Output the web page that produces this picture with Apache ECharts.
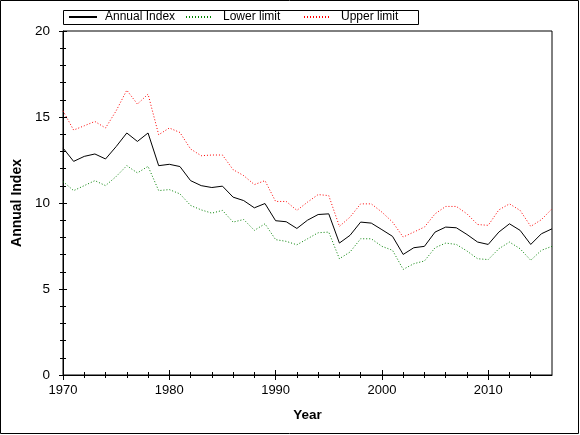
<!DOCTYPE html>
<html>
<head>
<meta charset="utf-8">
<script src="https://cdn.jsdelivr.net/npm/echarts@6/dist/echarts.min.js"></script>
<style>html,body{margin:0;padding:0;background:#fff}#c{width:580px;height:435px}</style>
</head>
<body>
<div id="c"></div>
<script>
var years = [1970,1971,1972,1973,1974,1975,1976,1977,1978,1979,1980,1981,1982,1983,1984,1985,1986,1987,1988,1989,1990,1991,1992,1993,1994,1995,1996,1997,1998,1999,2000,2001,2002,2003,2004,2005,2006,2007,2008,2009,2010,2011,2012,2013,2014,2015,2016];
var annualIndex = [13.2,12.42,12.71,12.85,12.56,13.28,14.07,13.58,14.07,12.17,12.25,12.12,11.3,11.01,10.9,10.98,10.34,10.14,9.72,9.97,8.97,8.91,8.52,9.0,9.33,9.37,7.67,8.12,8.89,8.83,8.45,8.06,7.01,7.4,7.48,8.31,8.6,8.56,8.17,7.73,7.59,8.31,8.79,8.41,7.59,8.21,8.5];
var lowerLimit = [11.25,10.72,11.01,11.3,11.01,11.54,12.17,11.75,12.13,10.72,10.78,10.53,9.86,9.6,9.41,9.57,8.89,9.04,8.41,8.79,7.87,7.77,7.57,7.92,8.27,8.31,6.76,7.15,7.92,7.92,7.48,7.25,6.14,6.47,6.63,7.4,7.67,7.59,7.21,6.76,6.71,7.34,7.73,7.34,6.67,7.25,7.48];
var upperLimit = [15.36,14.24,14.49,14.74,14.36,15.36,16.56,15.75,16.33,13.97,14.36,14.1,13.14,12.75,12.79,12.79,11.94,11.59,11.07,11.3,10.09,10.09,9.57,10.05,10.49,10.43,8.64,9.18,9.95,9.95,9.47,8.89,8.02,8.31,8.6,9.37,9.8,9.8,9.37,8.75,8.7,9.6,9.95,9.57,8.64,9.03,9.66];
var xLabelTicks = [1970,1980,1990,2000,2010];
var xMinorTicks = [1972,1974,1976,1978,1982,1984,1986,1988,1992,1994,1996,1998,2002,2004,2006,2008,2012,2014];
var yLabelTicks = [0,5,10,15,20];
var yMinorTicks = [1,2,3,4,6,7,8,9,11,12,13,14,16,17,18,19];

function pairs(vals){ return years.map(function(y,i){ return [y, vals[i]]; }); }

var FONT = '"Liberation Sans", Arial, sans-serif';
var xMin = 1970, xMax = 2016, yMin = 0, yMax = 20;

function tickAxisX(values, len, off){
  return {type:'value', min:xMin, max:xMax, position:'bottom', offset:off,
    axisLine:{show:false}, splitLine:{show:false}, axisLabel:{show:false},
    axisTick:{show:true, customValues:values, length:len, lineStyle:{color:'#000',width:1}}};
}
function tickAxisY(values, len, off){
  return {type:'value', min:yMin, max:yMax, position:'left', offset:off,
    axisLine:{show:false}, splitLine:{show:false}, axisLabel:{show:false},
    axisTick:{show:true, customValues:values, length:len, lineStyle:{color:'#000',width:1}}};
}
function legendAt(name, left, iw, pad){
  return {data:[name], left:left, top:11, padding:0, itemWidth:iw, itemHeight:14,
    icon:'inherit', itemStyle:{opacity:0},
    selectedMode:false, textStyle:{fontFamily:FONT, fontSize:12, color:'#000', padding:[0,0,0,pad]}};
}

var chart = echarts.init(document.getElementById('c'), null, {renderer:'canvas'});
chart.setOption({
  animation:false,
  backgroundColor:'#fff',
  grid:{left:63, right:28, top:31, bottom:60, show:true, borderColor:'#000', borderWidth:1},
  legend:[
    legendAt('Annual Index', 68, 28, 3),
    legendAt('Lower limit', 185, 27, 5),
    legendAt('Upper limit', 303, 26, 6)
  ],
  graphic:[
    {type:'rect', shape:{x:0.5,y:0.5,width:578,height:433}, style:{fill:null, stroke:'#000', lineWidth:1}, silent:true, z:-1},
    {type:'rect', shape:{x:63.5,y:10.5,width:355,height:14}, style:{fill:null, stroke:'#000', lineWidth:1}, silent:true, z:-1}
  ],
  xAxis:[
    {type:'value', min:xMin, max:xMax, position:'bottom', name:'Year', nameLocation:'middle', nameGap:33,
     nameTextStyle:{fontFamily:FONT, fontSize:13.5, fontWeight:'bold', color:'#000'},
     axisLine:{show:true, onZero:false, lineStyle:{color:'#000', width:1}},
     axisTick:{show:false}, splitLine:{show:false},
     axisLabel:{customValues:xLabelTicks, margin:9, fontFamily:FONT, fontSize:13, color:'#000',
       formatter:function(v){ return String(v); }}},
    tickAxisX(xLabelTicks, 10, -5),
    tickAxisX(xMinorTicks, 6, -3)
  ],
  yAxis:[
    {type:'value', min:yMin, max:yMax, interval:5, position:'left', name:'Annual Index', nameLocation:'middle', nameGap:38,
     nameTextStyle:{fontFamily:FONT, fontSize:14, fontWeight:'bold', color:'#000'},
     axisLine:{show:true, onZero:false, lineStyle:{color:'#000', width:1}},
     axisTick:{show:false}, splitLine:{show:false},
     axisLabel:{margin:13, fontFamily:FONT, fontSize:13.5, color:'#000'}},
    tickAxisY(yLabelTicks, 8, -4),
    tickAxisY(yMinorTicks, 6, -3)
  ],
  series:[
    {name:'Annual Index', type:'line', data:pairs(annualIndex), showSymbol:false, symbol:'none',
     lineStyle:{color:'#000', width:1, type:'solid'}, itemStyle:{color:'#000'}, z:3},
    {name:'Lower limit', type:'line', data:pairs(lowerLimit), showSymbol:false, symbol:'none',
     lineStyle:{color:'#008000', width:1, type:[1,2]}, itemStyle:{color:'#008000'}},
    {name:'Upper limit', type:'line', data:pairs(upperLimit), showSymbol:false, symbol:'none',
     lineStyle:{color:'#ff0000', width:1, type:[1,2]}, itemStyle:{color:'#ff0000'}}
  ]
});
</script>
</body>
</html>
